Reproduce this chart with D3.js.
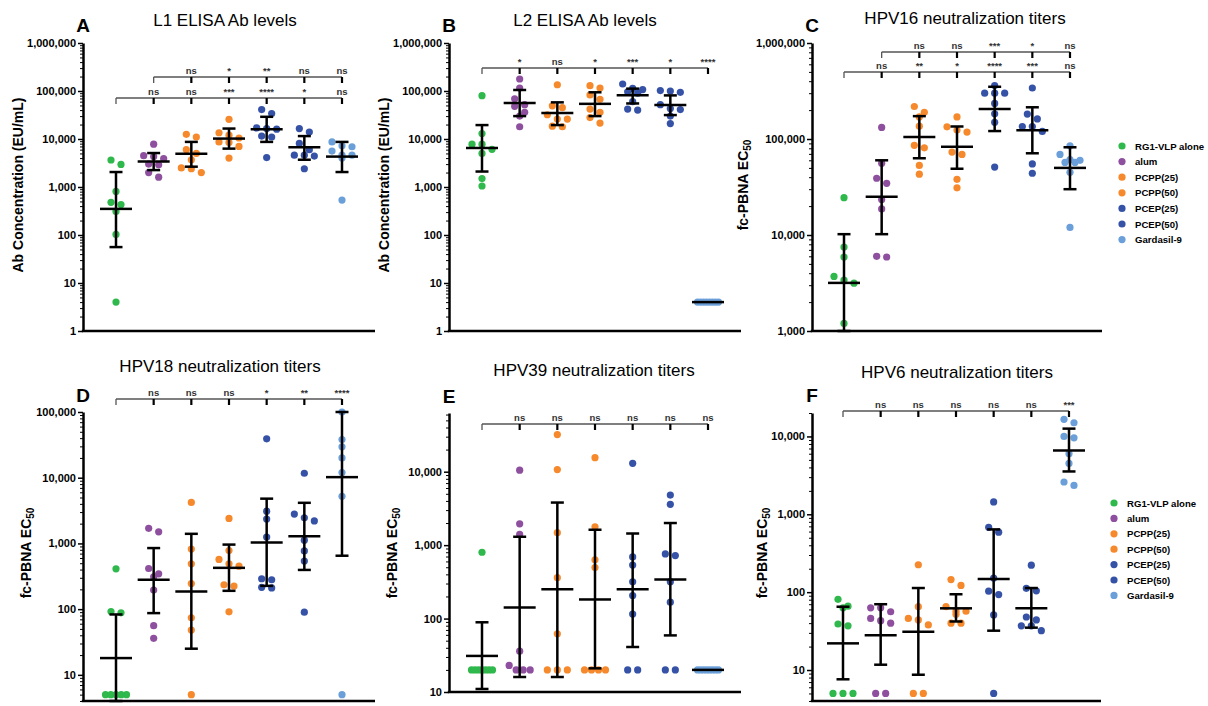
<!DOCTYPE html>
<html>
<head>
<meta charset="utf-8">
<script src="https://cdn.jsdelivr.net/npm/d3@7"></script>
<style>
body { margin: 0; background: #fff; }
svg { display: block; font-family: "Liberation Sans", Arial, sans-serif; }
</style>
</head>
<body>
<svg id="chart" width="1208" height="706"></svg>
<script>
// groups shared by all six panels
var groups = ["RG1-VLP alone", "alum", "PCPP(25)", "PCPP(50)", "PCEP(25)", "PCEP(50)", "Gardasil-9"];
var groupColors = ["#2fb84b", "#8e4f9f", "#f6892c", "#f6892c", "#3552a6", "#3552a6", "#6b9fd9"];

// A - L1 ELISA
var aVals = [
    [2950, 3650, 810, 480, 430, 310, 103, 4],
    [7800, 4500, 4300, 3900, 3000, 2900, 2000, 1600],
    [12500, 11000, 6000, 5000, 3700, 2500, 2400, 2000],
    [25700, 13500, 12000, 10500, 8700, 8500, 7000, 4000],
    [41000, 34000, 17000, 16500, 16000, 11500, 11000, 4100],
    [16500, 14000, 8100, 6000, 4600, 4600, 4400, 2400],
    [8700, 7200, 6900, 5600, 4600, 4600, 4000, 535]
];
var aMean = [350, 3400, 4900, 10200, 15900, 6700, 4300];
var aHi = [2050, 5100, 8700, 16500, 29000, 11500, 8700];
var aLo = [56, 2250, 2650, 6300, 8700, 3700, 2050];
var aSigAlone = ["ns", "ns", "***", "****", "*", "ns"];
var aSigAlum = ["ns", "*", "**", "ns", "ns"];
var aTicks = [1, 10, 100, 1000, 10000, 100000, 1000000];

// B - L2 ELISA
var bVals = [
    [80000, 13000, 7800, 7800, 6100, 5000, 1500, 1050],
    [178000, 115000, 69000, 52000, 48000, 36000, 30000, 18000],
    [135000, 49000, 45000, 32000, 26000, 26000, 18500, 18000],
    [129000, 115000, 83000, 67000, 42000, 36000, 28000, 21500],
    [140000, 113000, 107000, 96000, 90000, 60000, 42000, 40000],
    [102000, 100000, 94000, 52000, 43000, 41000, 30000, 21000],
    [4, 4, 4, 4, 4, 4, 4, 4]
];
var bMean = [6500, 56000, 35000, 54000, 82000, 51000, 4];
var bHi = [19500, 105000, 58000, 94000, 112000, 81000, 4];
var bLo = [2100, 30000, 19500, 30000, 55000, 31500, 4];
var bSigAlone = ["*", "ns", "*", "***", "*", "****"];
var bTicks = [1, 10, 100, 1000, 10000, 100000, 1000000];

// C - HPV16
var cVals = [
    [24500, 7500, 5900, 3700, 3400, 3150, 1200],
    [132000, 56000, 39000, 34500, 23500, 18700, 6000, 5900],
    [218000, 190000, 170000, 136000, 86000, 81000, 53000, 43000],
    [170000, 134000, 124000, 118000, 73000, 69000, 38000, 31000],
    [360000, 300000, 300000, 300000, 235000, 183000, 149000, 51000],
    [340000, 182000, 162000, 135000, 135000, 120000, 55000, 44000],
    [85000, 69000, 61000, 60000, 57000, 57000, 45000, 12000]
];
var cMean = [3170, 25000, 105000, 83000, 205000, 123000, 50000];
var cHi = [10200, 60000, 173000, 135000, 350000, 214000, 82000];
var cLo = [900, 10200, 63000, 49000, 121000, 71000, 30000];
var cSigAlone = ["ns", "**", "*", "****", "***", "ns"];
var cSigAlum = ["ns", "ns", "***", "*", "ns"];
var cTicks = [1000, 10000, 100000, 1000000];

// D - HPV18
var dVals = [
    [410, 92, 88, 5, 5, 5, 5, 5],
    [1700, 1500, 415, 345, 310, 195, 56, 36],
    [4200, 820, 490, 245, 74, 48, 5],
    [2400, 780, 570, 490, 450, 235, 225, 91],
    [39000, 3100, 2350, 1250, 290, 280, 215, 210],
    [11700, 2800, 2450, 2200, 1120, 770, 540, 90],
    [100000, 38000, 29500, 20000, 12000, 5200, 5]
];
var dMean = [18, 280, 185, 425, 1035, 1290, 10200];
var dHi = [83, 850, 1400, 960, 4800, 4150, 100000];
var dLo = [3, 87, 25, 190, 226, 395, 650];
var dSigAlone = ["ns", "ns", "ns", "*", "**", "****"];
var dTicks = [10, 100, 1000, 10000, 100000];

// E - HPV39
var eVals = [
    [800, 20, 20, 20, 20, 20, 20, 20],
    [10500, 1950, 1400, 36, 23, 20, 20, 20],
    [32000, 10700, 1480, 360, 62, 20, 20, 20],
    [15500, 1780, 630, 495, 20, 20, 20, 20],
    [13000, 690, 535, 316, 206, 115, 20, 20],
    [4800, 3600, 760, 720, 318, 167, 20, 20],
    [20, 20, 20, 20, 20, 20, 20, 20]
];
var eMean = [31, 142, 250, 182, 250, 340, 20];
var eHi = [89, 1300, 3800, 1620, 1440, 2000, 20];
var eLo = [11, 16, 16, 21, 41, 59, 20];
var eSigAlone = ["ns", "ns", "ns", "ns", "ns", "ns"];
var eTicks = [10, 100, 1000, 10000];

// F - HPV6
var fVals = [
    [81, 66, 63, 39, 37, 5, 5, 5],
    [63, 63, 56, 46, 43, 40, 5, 5],
    [225, 65, 46, 44, 38, 5, 5],
    [145, 122, 65, 57, 57, 52, 40, 40],
    [1440, 680, 590, 152, 103, 93, 51, 5],
    [222, 112, 104, 48, 44, 37, 37, 32],
    [16600, 15000, 10000, 9600, 6000, 4500, 2600, 2350]
];
var fMean = [22, 28, 31, 62, 148, 62, 6600];
var fHi = [65, 70, 113, 94, 640, 113, 12600];
var fLo = [7.6, 11.7, 8.7, 42, 32, 35, 3550];
var fSigAlone = ["ns", "ns", "ns", "ns", "ns", "***"];
var fTicks = [10, 100, 1000, 10000];

var svg = d3.select("#chart");

var panels = [
    { letter: "A", title: "L1 ELISA Ab levels", yLabel: "Ab Concentration (EU/mL)", sub: false,
      vals: aVals, mean: aMean, hi: aHi, lo: aLo, ticks: aTicks, domain: [1, 1000000],
      x0: 83, x1: 375, c0: 116, c1: 342, top: 43, bottom: 331,
      titleX: 225, titleY: 26, letterY: 32, labelX: 23, labelY: 185,
      brackets: [{ y: 98, from: 0, sig: aSigAlone }, { y: 77, from: 1, sig: aSigAlum }] },
    { letter: "B", title: "L2 ELISA Ab levels", yLabel: "Ab Concentration (EU/mL)", sub: false,
      vals: bVals, mean: bMean, hi: bHi, lo: bLo, ticks: bTicks, domain: [1, 1000000],
      x0: 449, x1: 741, c0: 482, c1: 708, top: 43, bottom: 331,
      titleX: 585, titleY: 26, letterY: 32, labelX: 389, labelY: 185,
      brackets: [{ y: 68, from: 0, sig: bSigAlone }] },
    { letter: "C", title: "HPV16 neutralization titers", yLabel: "fc-PBNA EC", sub: true,
      vals: cVals, mean: cMean, hi: cHi, lo: cLo, ticks: cTicks, domain: [1000, 1000000],
      x0: 812, x1: 1102, c0: 844, c1: 1070, top: 43, bottom: 331,
      titleX: 965, titleY: 24, letterY: 32, labelX: 748, labelY: 185,
      brackets: [{ y: 72, from: 0, sig: cSigAlone }, { y: 52, from: 1, sig: cSigAlum }],
      legend: { x: 1122, y: 146, step: 15.6 } },
    { letter: "D", title: "HPV18 neutralization titers", yLabel: "fc-PBNA EC", sub: true,
      vals: dVals, mean: dMean, hi: dHi, lo: dLo, ticks: dTicks, domain: [4, 100000],
      x0: 83, x1: 375, c0: 116, c1: 342, top: 412, bottom: 701,
      titleX: 220, titleY: 372, letterY: 402, labelX: 31, labelY: 553,
      brackets: [{ y: 399, from: 0, sig: dSigAlone }] },
    { letter: "E", title: "HPV39 neutralization titers", yLabel: "fc-PBNA EC", sub: true,
      vals: eVals, mean: eMean, hi: eHi, lo: eLo, ticks: eTicks, domain: [10, 63000],
      x0: 449, x1: 741, c0: 482, c1: 708, top: 413, bottom: 692,
      titleX: 594, titleY: 376, letterY: 403, labelX: 397, labelY: 553,
      brackets: [{ y: 424, from: 0, sig: eSigAlone }] },
    { letter: "F", title: "HPV6 neutralization titers", yLabel: "fc-PBNA EC", sub: true,
      vals: fVals, mean: fMean, hi: fHi, lo: fLo, ticks: fTicks, domain: [4, 20000],
      x0: 812, x1: 1101, c0: 843, c1: 1069, top: 413, bottom: 701,
      titleX: 957, titleY: 378, letterY: 402, labelX: 767, labelY: 553,
      brackets: [{ y: 411, from: 0, sig: fSigAlone }],
      legend: { x: 1114, y: 503, step: 15.4 } }
];

// minor log ticks (2..9 x 10^k) inside a domain
function minorTicks(domain) {
    var out = [];
    for (var k = Math.floor(Math.log10(domain[0])); k <= Math.ceil(Math.log10(domain[1])); k++) {
        for (var m = 2; m <= 9; m++) {
            var v = m * Math.pow(10, k);
            if (v >= domain[0] && v <= domain[1]) out.push(v);
        }
    }
    return out;
}

// spread points that sit at about the same height, GraphPad style
function swarmOffsets(pys) {
    var idx = pys.map(function (v, i) { return i; }).sort(function (a, b) { return pys[a] - pys[b]; });
    var off = pys.map(function () { return 0; });
    var cluster = [];
    function flush() {
        var n = cluster.length;
        var gap = n > 1 ? Math.min(10, 21 / (n - 1)) : 0;
        cluster.forEach(function (k, j) { off[k] = (j - (n - 1) / 2) * gap; });
        cluster = [];
    }
    idx.forEach(function (k) {
        if (cluster.length && pys[k] - pys[cluster[0]] >= 7) flush();
        cluster.push(k);
    });
    flush();
    return off;
}

function drawPanel(p) {
    var g = svg.append("g");
    var y = d3.scaleLog().domain(p.domain).range([p.bottom, p.top]).clamp(true);
    var x = d3.scalePoint().domain(groups).range([p.c0, p.c1]);

    // title and panel letter
    g.append("text")
        .attr("x", p.titleX).attr("y", p.titleY)
        .attr("text-anchor", "middle")
        .style("font-size", "17px")
        .text(p.title);
    g.append("text")
        .attr("x", p.x0).attr("y", p.letterY)
        .attr("text-anchor", "middle")
        .style("font-size", "19px").style("font-weight", "bold")
        .text(p.letter);

    // y axis, minor ticks then major
    var minorAxis = g.append("g").attr("transform", "translate(" + p.x0 + ",0)")
        .call(d3.axisLeft(y).tickValues(minorTicks(p.domain)).tickSize(3).tickSizeOuter(0).tickFormat(""));
    minorAxis.select(".domain").remove();
    minorAxis.selectAll("line").attr("stroke", "#000").attr("stroke-width", 1);

    var majorAxis = g.append("g").attr("transform", "translate(" + p.x0 + ",0)")
        .call(d3.axisLeft(y).tickValues(p.ticks).tickSize(5).tickSizeOuter(0).tickFormat(d3.format(",")));
    majorAxis.select(".domain").attr("stroke", "#000").attr("stroke-width", 2.5);
    majorAxis.selectAll("line").attr("stroke", "#000").attr("stroke-width", 1.5);
    majorAxis.selectAll("text")
        .attr("x", -7)
        .style("font-size", "11px").style("font-weight", "bold")
        .style("font-family", "'Liberation Sans', Arial, sans-serif")
        .attr("fill", "#000");

    // x axis line
    g.append("line")
        .attr("x1", p.x0 - 1.2).attr("x2", p.x1)
        .attr("y1", p.bottom).attr("y2", p.bottom)
        .attr("stroke", "#000").attr("stroke-width", 2.5);

    // y axis label
    var lab = g.append("text")
        .attr("transform", "translate(" + p.labelX + "," + p.labelY + ") rotate(-90)")
        .attr("text-anchor", "middle")
        .style("font-size", "14px").style("font-weight", "bold");
    lab.append("tspan").text(p.yLabel);
    if (p.sub) lab.append("tspan").attr("dy", 3).style("font-size", "10px").text("50");

    // points
    groups.forEach(function (name, i) {
        var pys = p.vals[i].map(function (v) { return y(v); });
        var offs = swarmOffsets(pys);
        g.selectAll(null)
            .data(p.vals[i])
            .enter().append("circle")
            .attr("cx", function (d, j) { return x(name) + offs[j]; })
            .attr("cy", function (d) { return y(d); })
            .attr("r", 3.6)
            .attr("fill", groupColors[i]);
    });

    // geometric mean with 95% CI
    groups.forEach(function (name, i) {
        var cx = x(name);
        var bars = g.append("g").attr("stroke", "#000").attr("stroke-width", 2.5);
        if (p.hi[i] !== p.lo[i]) {
            bars.append("line").attr("x1", cx).attr("x2", cx).attr("y1", y(p.hi[i])).attr("y2", y(p.lo[i]));
            bars.append("line").attr("x1", cx - 6.5).attr("x2", cx + 6.5).attr("y1", y(p.hi[i])).attr("y2", y(p.hi[i]));
            bars.append("line").attr("x1", cx - 6.5).attr("x2", cx + 6.5).attr("y1", y(p.lo[i])).attr("y2", y(p.lo[i]));
        }
        bars.append("line").attr("x1", cx - 16).attr("x2", cx + 16).attr("y1", y(p.mean[i])).attr("y2", y(p.mean[i]));
    });

    // significance brackets
    p.brackets.forEach(function (b) {
        var bg = g.append("g");
        var xa = x(groups[b.from]);
        bg.append("line").attr("x1", xa).attr("x2", x(groups[6]))
            .attr("y1", b.y).attr("y2", b.y)
            .attr("stroke", "#555").attr("stroke-width", 1.3);
        bg.append("line").attr("x1", xa).attr("x2", xa)
            .attr("y1", b.y).attr("y2", b.y + 6)
            .attr("stroke", "#555").attr("stroke-width", 1.3);
        b.sig.forEach(function (s, j) {
            var xs = x(groups[b.from + 1 + j]);
            bg.append("line").attr("x1", xs).attr("x2", xs)
                .attr("y1", b.y).attr("y2", b.y + 6)
                .attr("stroke", "#000").attr("stroke-width", 2.2);
            bg.append("text")
                .attr("x", xs).attr("y", b.y - 3)
                .attr("text-anchor", "middle")
                .style("font-size", "9.5px").style("font-weight", "bold")
                .attr("fill", "#333")
                .text(s);
        });
    });

    // legend
    if (p.legend) {
        var lg = g.append("g");
        groups.forEach(function (name, i) {
            var ly = p.legend.y + i * p.legend.step;
            lg.append("circle").attr("cx", p.legend.x).attr("cy", ly).attr("r", 3.6).attr("fill", groupColors[i]);
            lg.append("text").attr("x", p.legend.x + 13).attr("y", ly + 3.5)
                .style("font-size", "9.6px").style("font-weight", "bold")
                .text(name);
        });
    }
}

panels.forEach(drawPanel);
</script>
</body>
</html>
